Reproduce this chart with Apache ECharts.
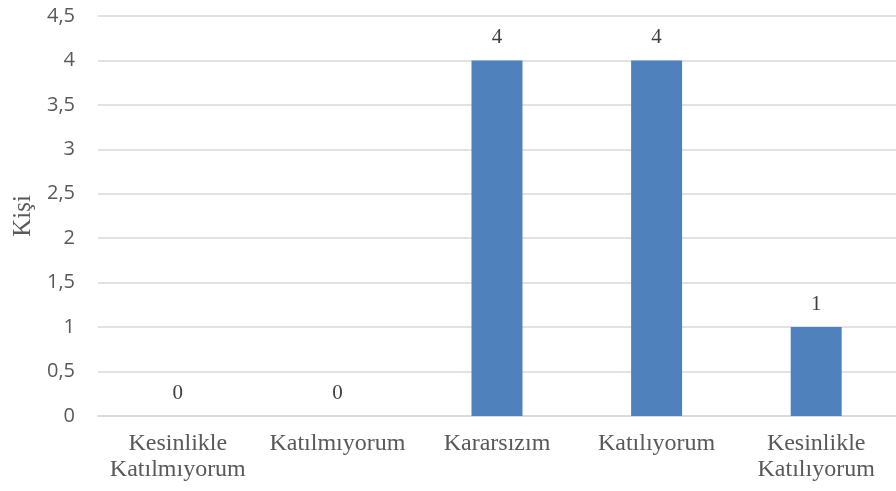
<!DOCTYPE html>
<html><head><meta charset="utf-8">
<script src="https://cdn.jsdelivr.net/npm/echarts@6/dist/echarts.min.js"></script>
<style>html,body{margin:0;padding:0;background:#fff}#c{width:896px;height:491px}</style>
</head><body><div id="c"></div>
<script>
const categories = ['Kesinlikle\nKatılmıyorum', 'Katılmıyorum', 'Kararsızım', 'Katılıyorum', 'Kesinlikle\nKatılıyorum'];
const values = [0, 0, 4, 4, 1];
const yTicks = [0, 0.5, 1, 1.5, 2, 2.5, 3, 3.5, 4, 4.5];

const chart = echarts.init(document.getElementById('c'));
chart.setOption({
  animation: false,
  grid: { left: 98, right: -6, top: 16, bottom: 75 },
  xAxis: {
    type: 'category',
    data: categories,
    axisLine: { show: true, lineStyle: { color: '#d9d9d9', width: 1.5 } },
    axisTick: { show: false },
    axisLabel: { interval: 0, margin: 15, fontFamily: 'Liberation Serif', fontSize: 24, lineHeight: 26, color: '#595959' }
  },
  yAxis: {
    type: 'value',
    min: yTicks[0], max: yTicks[yTicks.length - 1], interval: 0.5,
    name: 'Kişi',
    nameLocation: 'middle',
    nameGap: 60,
    nameTextStyle: { fontFamily: 'Liberation Serif', fontSize: 25, color: '#595959' },
    axisLine: { show: false },
    axisTick: { show: false },
    splitLine: { lineStyle: { color: '#d9d9d9', width: 1.5 } },
    axisLabel: { margin: 23, fontFamily: 'Open Sans', fontSize: 20, color: '#595959',
      formatter: v => String(v).replace('.', ',') }
  },
  series: [{
    type: 'bar',
    data: values,
    barWidth: 51,
    itemStyle: { color: '#4f81bd' },
    label: { show: true, position: 'top', distance: 12, fontFamily: 'Liberation Serif', fontSize: 21, color: '#404040' }
  }]
});
</script></body></html>
